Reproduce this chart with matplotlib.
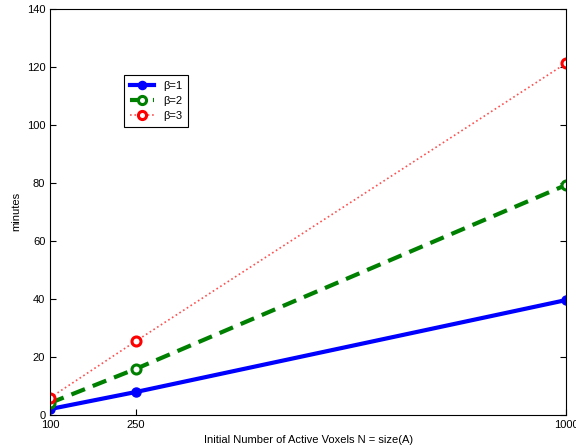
# -------------------------------------------------------------------------------------
# Library
import numpy as np
import matplotlib
matplotlib.use('Agg')
import matplotlib.pyplot as plt
# -------------------------------------------------------------------------------------

# -------------------------------------------------------------------------------------
# Data
voxels = [100, 250, 1000]
minutes_b1 = [2.0, 7.9, 39.6]
minutes_b2 = [4.1, 15.9, 79.3]
minutes_b3 = [5.9, 25.5, 121.3]
labels = ['\u03b2=1', '\u03b2=2', '\u03b2=3']
# -------------------------------------------------------------------------------------

plt.rcParams['font.family'] = ['Liberation Sans', 'DejaVu Sans']

fig = plt.figure(figsize=(5.76, 4.48), dpi=100)
ax = fig.add_axes([0.087, 0.074, 0.896, 0.906])

ax.plot(voxels, minutes_b1, '-o', color='blue', lw=3, ms=6.5,
        mfc='blue', mec='blue', label=labels[0])
ax.plot(voxels, minutes_b2, '--o', color='green', lw=3, ms=6.5,
        mfc='white', mec='green', mew=2.2, label=labels[1],
        dashes=(3.5, 2))
ax.plot(voxels, minutes_b3, ':o', color='#ff5050', lw=1.2, ms=6.5,
        mfc='white', mec='red', mew=2.2, label=labels[2])

ax.set_xlim(100, 1000)
ax.set_ylim(0, 140)
ax.set_xticks(voxels)
ax.set_yticks(np.arange(0, 141, 20))
ax.tick_params(direction='in', labelsize=8, length=4, top=False, right=True)
ax.set_xlabel('Initial Number of Active Voxels N = size(A)', fontsize=8)
ax.set_ylabel('minutes', fontsize=8)

leg = ax.legend(loc='upper left', bbox_to_anchor=(0.133, 0.85), fontsize=8,
                fancybox=False, framealpha=1, edgecolor='black',
                handlelength=2.2, borderpad=0.5, labelspacing=0.45,
                markerscale=0.9)
leg.get_frame().set_linewidth(0.8)

fig.savefig('out.png', dpi=100)
